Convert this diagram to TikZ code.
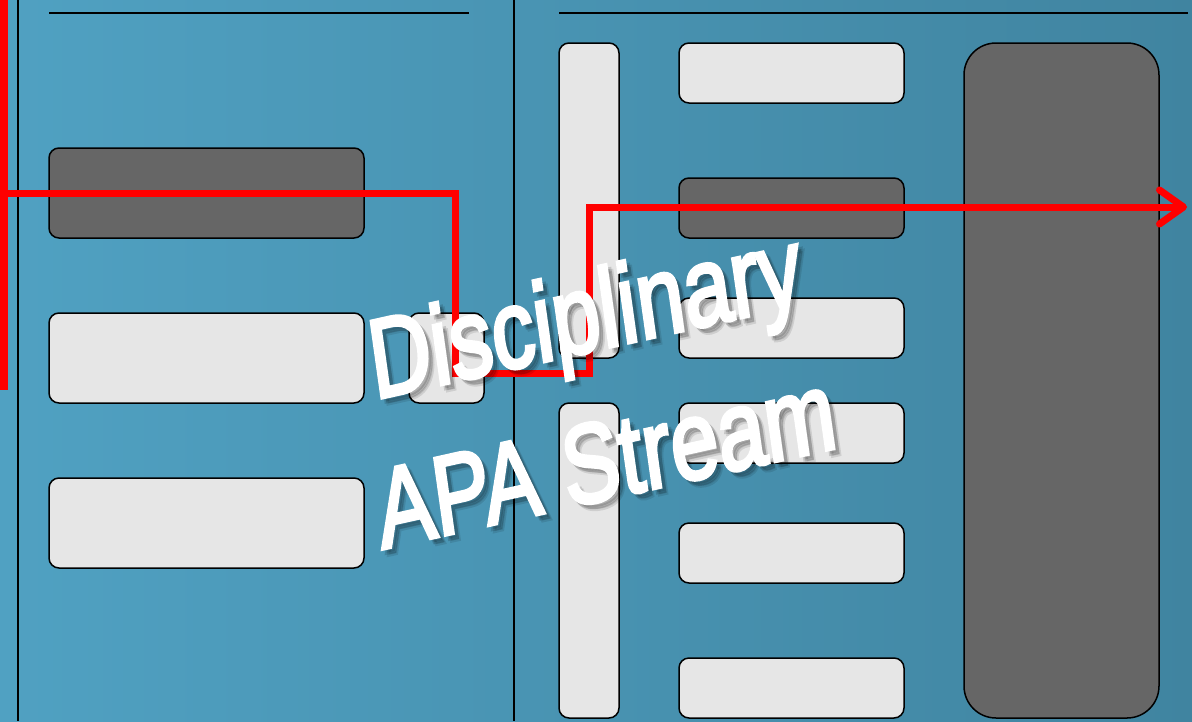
\documentclass[tikz,border=0pt]{standalone}
\usepackage{fontspec}
\setmainfont{Liberation Sans}
\usetikzlibrary{arrows.meta}
\definecolor{bgL}{RGB}{80,161,194}
\definecolor{bgR}{RGB}{64,132,160}
\definecolor{lightbox}{RGB}{230,230,230}
\definecolor{darkbox}{RGB}{102,102,102}
\definecolor{redline}{RGB}{255,0,0}
\newcommand{\heavywhite}{\special{pdf:literal direct 2 Tr 3 w 1 1 1 RG}}
\newcommand{\heavyblack}{\special{pdf:literal direct 2 Tr 3 w 0 0 0 RG}}
\tikzset{
  boxbase/.style={draw=black, line width=1.5pt, rounded corners=10pt, anchor=north west, inner sep=0pt, outer sep=0pt},
  lbox/.style={boxbase, fill=lightbox},
  dbox/.style={boxbase, fill=darkbox},
  rule/.style={draw=black, line width=1.5pt},
  redpath/.style={draw=redline, line width=7pt},
  title/.style={font=\fontsize{86}{114}\selectfont, align=center, rotate=8, yslant=0.08, yscale=1.3, inner sep=0pt},
}
\begin{document}
\begin{tikzpicture}[x=1pt,y=-1pt]
\useasboundingbox (0,0) rectangle (1192,721);
\shade[left color=bgL, right color=bgR] (0,0) rectangle (1192,721);
% rules
\coordinate (v1t) at (18,0); \coordinate (v1b) at (18,721);
\coordinate (v2t) at (514,0); \coordinate (v2b) at (514,721);
\coordinate (h1a) at (49,13); \coordinate (h1b) at (469,13);
\coordinate (h2a) at (559,13); \coordinate (h2b) at (1188,13);
\draw[rule] (v1t) -- (v1b);
\draw[rule] (v2t) -- (v2b);
\draw[rule] (h1a) -- (h1b);
\draw[rule] (h2a) -- (h2b);
% left column
\node[dbox, minimum width=315pt, minimum height=90pt] (L1) at (49,148) {};
\node[lbox, minimum width=315pt, minimum height=90pt] (L2) at (49,313) {};
\node[lbox, minimum width=315pt, minimum height=90pt] (L3) at (49,478) {};
\node[lbox, minimum width=75pt, minimum height=90pt] (L4) at (409,313) {};
% right tall boxes
\node[lbox, minimum width=60pt, minimum height=315pt] (T1) at (559,43) {};
\node[lbox, minimum width=60pt, minimum height=315pt] (T2) at (559,403) {};
% right column
\node[lbox, minimum width=225pt, minimum height=60pt] (R1) at (679,43) {};
\node[dbox, minimum width=225pt, minimum height=60pt] (R2) at (679,178) {};
\node[lbox, minimum width=225pt, minimum height=60pt] (R3) at (679,298) {};
\node[lbox, minimum width=225pt, minimum height=60pt] (R4) at (679,403) {};
\node[lbox, minimum width=225pt, minimum height=60pt] (R5) at (679,523) {};
\node[lbox, minimum width=225pt, minimum height=60pt] (R6) at (679,658) {};
\node[dbox, rounded corners=32pt, minimum width=195pt, minimum height=675pt] (BIG) at (964,43) {};
% red path
\coordinate (r0) at (4,0); \coordinate (r1) at (4,390);
\coordinate (p0) at (0,193); \coordinate (p1) at (455,193);
\coordinate (p2) at (455,373); \coordinate (p3) at (589,373);
\coordinate (p4) at (589,207); \coordinate (p5) at (1187,207);
\draw[redpath] (r0) -- (r1);
\draw[redpath, -{Straight Barb[length=24pt, width=34pt, round]}] (p0) -- (p1) -- (p2) -- (p3) -- (p4) -- (p5);
% title with shadow
\node[title, text=black, opacity=0.10] (ts1) at (601,391) {\heavyblack Disciplinary\\\heavyblack APA Stream};
\node[title, text=black, opacity=0.14] (ts2) at (599,389) {\heavyblack Disciplinary\\\heavyblack APA Stream};
\node[title, text=white] (t) at (595,385) {\heavywhite Disciplinary\\\heavywhite APA Stream};
\end{tikzpicture}
\end{document}
